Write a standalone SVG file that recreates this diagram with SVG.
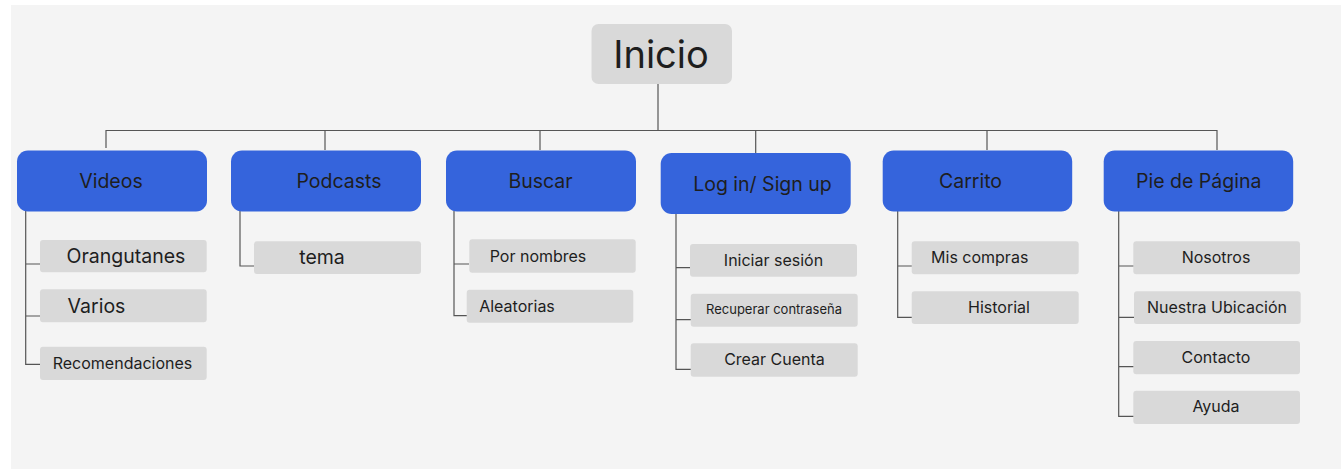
<svg xmlns="http://www.w3.org/2000/svg" width="1341" height="469" viewBox="0 0 1341 469">
<style>
.main{fill:#3564dc;}
.sub{fill:#d9d9d9;}
.t{font-family:Inter,"Liberation Sans",sans-serif;fill:#1e1e1e;text-anchor:middle;}
.tm{font-size:19.5px;}
.ts{font-size:16px;}
.tx{font-size:13px;}
#connectors path{fill:none;stroke:#555;stroke-width:1.2;}
</style>
<rect x="0" y="0" width="1341" height="469" fill="#ffffff"/>
<rect x="11" y="5" width="1330" height="464" fill="#f4f4f4"/>
<g id="connectors">
<path d="M658 84V131"/>
<path d="M106 148V130.5H1217V150"/>
<path d="M325 130.5V150"/>
<path d="M540 130.5V150"/>
<path d="M755.7 130.5V153"/>
<path d="M987 130.5V150"/>
<path d="M25.7 211V364.3H40M25.7 264H40M25.7 316H40"/>
<path d="M240 211V266H254"/>
<path d="M454 211V315.7H467M454 264H469"/>
<path d="M676 214V369.3H691M676 267.7H690M676 319.7H691"/>
<path d="M897.7 211V317.3H912M897.7 266H912"/>
<path d="M1118.7 211V416.3H1134M1118.7 266H1134M1118.7 317.3H1134M1118.7 366.7H1134"/>
</g>
<g id="inicio"><rect x="591.5" y="24" width="140.5" height="60" rx="7" class="sub"/><text x="661" y="67.5" class="t" style="font-size:38px">Inicio</text></g>
<g id="videos"><rect x="17" y="150.5" width="190" height="61" rx="11" class="main"/><text x="111" y="188" class="t tm">Videos</text></g>
<g id="podcasts"><rect x="231" y="150.5" width="190" height="61" rx="11" class="main"/><text x="339" y="188" class="t tm">Podcasts</text></g>
<g id="buscar"><rect x="446" y="150.5" width="190" height="61" rx="11" class="main"/><text x="540.5" y="188" class="t tm">Buscar</text></g>
<g id="login"><rect x="660.7" y="153" width="190" height="61" rx="11" class="main"/><text x="762.5" y="191" class="t tm">Log in/ Sign up</text></g>
<g id="carrito"><rect x="882.7" y="150.5" width="189.5" height="61" rx="11" class="main"/><text x="970.5" y="188" class="t tm">Carrito</text></g>
<g id="pie"><rect x="1103.7" y="150.5" width="189.5" height="61" rx="11" class="main"/><text x="1198.7" y="188" class="t tm">Pie de Página</text></g>
<g id="orangutanes"><rect x="40" y="240" width="166.7" height="32.3" rx="3" class="sub"/><text x="126" y="263" class="t tm">Orangutanes</text></g>
<g id="varios"><rect x="40" y="289.3" width="166.7" height="33" rx="3" class="sub"/><text x="96.5" y="313" class="t tm">Varios</text></g>
<g id="recomendaciones"><rect x="40" y="346.7" width="166.7" height="33.3" rx="3" class="sub"/><text x="122.5" y="368.5" class="t ts">Recomendaciones</text></g>
<g id="tema"><rect x="254" y="241.3" width="167" height="32.7" rx="3" class="sub"/><text x="322" y="263.5" class="t tm">tema</text></g>
<g id="pornombres"><rect x="469.3" y="239.3" width="166.4" height="33.4" rx="3" class="sub"/><text x="538" y="261.5" class="t ts">Por nombres</text></g>
<g id="aleatorias"><rect x="466.7" y="289.7" width="166.6" height="33" rx="3" class="sub"/><text x="517" y="311.5" class="t ts">Aleatorias</text></g>
<g id="iniciar"><rect x="690" y="244" width="167" height="32.7" rx="3" class="sub"/><text x="773.5" y="266" class="t ts">Iniciar sesión</text></g>
<g id="recuperar"><rect x="690.7" y="293.7" width="167" height="33" rx="3" class="sub"/><text x="774" y="313.5" class="t tx">Recuperar contraseña</text></g>
<g id="crear"><rect x="690.7" y="343.3" width="167" height="33.4" rx="3" class="sub"/><text x="774.5" y="365" class="t ts">Crear Cuenta</text></g>
<g id="miscompras"><rect x="911.7" y="241.3" width="167" height="33" rx="3" class="sub"/><text x="979.7" y="263" class="t ts">Mis compras</text></g>
<g id="historial"><rect x="911.7" y="291.3" width="167" height="32.7" rx="3" class="sub"/><text x="999" y="313" class="t ts">Historial</text></g>
<g id="nosotros"><rect x="1133.3" y="241.3" width="166.7" height="33" rx="3" class="sub"/><text x="1216" y="263" class="t ts">Nosotros</text></g>
<g id="ubicacion"><rect x="1134" y="291.3" width="166.7" height="32.7" rx="3" class="sub"/><text x="1217" y="313" class="t ts">Nuestra Ubicación</text></g>
<g id="contacto"><rect x="1133.3" y="341" width="166.7" height="33.3" rx="3" class="sub"/><text x="1216" y="362.5" class="t ts">Contacto</text></g>
<g id="ayuda"><rect x="1133.3" y="390.7" width="166.7" height="33.3" rx="3" class="sub"/><text x="1216" y="412" class="t ts">Ayuda</text></g>
</svg>
